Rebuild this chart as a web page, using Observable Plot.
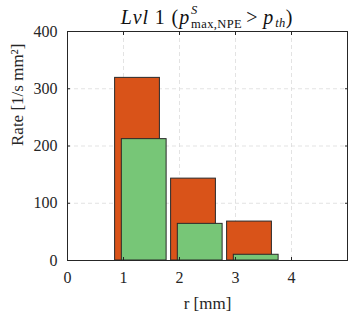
<!DOCTYPE html>
<html>
<head>
<meta charset="utf-8">
<script src="https://cdn.jsdelivr.net/npm/d3@7"></script>
<script src="https://cdn.jsdelivr.net/npm/@observablehq/plot@0.6"></script>
<style>
  html, body { margin: 0; padding: 0; background: #fff; }
  #chart { position: relative; width: 353px; height: 314px; }
  #chart svg text { font-family: "Liberation Serif", serif !important; }
  #title { position: absolute; left: 20px; width: 374px; top: 3px; text-align: center; line-height: 20px;
           font-family: "Liberation Serif", serif; font-size: 20px; letter-spacing: 0.9px; color: #111; white-space: nowrap; }
  .supsub { display: inline-block; vertical-align: -4px; line-height: 13.6px; font-size: 12.5px; letter-spacing: 0.4px; text-align: left; margin-left: 1px; }
  .op { margin: 0 5px 0 4px; }
</style>
</head>
<body>
<div id="chart"><div id="title"></div></div>
<script>
// Data
const binLeftOrange = [0.85, 1.85, 2.85];
const binLeftGreen = [0.97, 1.97, 2.97];
const binWidth = 0.8;
const rateOrange = [319, 143, 68];
const rateGreen = [212, 64, 10];
const xTicks = [0, 1, 2, 3, 4];
const yTicks = [0, 100, 200, 300, 400];

const orange = binLeftOrange.map((x, i) => ({x1: x, x2: x + binWidth, y: rateOrange[i]}));
const green = binLeftGreen.map((x, i) => ({x1: x, x2: x + binWidth, y: rateGreen[i]}));

const ff = "Liberation Serif";
const plot = Plot.plot({
  width: 353,
  height: 314,
  marginLeft: 67,
  marginRight: 6,
  marginTop: 31,
  marginBottom: 54,
  style: {fontFamily: ff, fontSize: "15px", color: "#262626", background: "white"},
  x: {domain: [0, 5]},
  y: {domain: [0, 400]},
  marks: [
    Plot.ruleX([1, 2, 3, 4], {stroke: "#dcdcdc", strokeDasharray: "4,3", strokeWidth: 0.8}),
    Plot.ruleY([100, 200, 300], {stroke: "#dcdcdc", strokeDasharray: "4,3", strokeWidth: 0.8}),
    Plot.rectY(orange, {x1: "x1", x2: "x2", y: "y", fill: "#D95319", stroke: "#2a2a2a", strokeWidth: 1}),
    Plot.rectY(green, {x1: "x1", x2: "x2", y: "y", fill: "#77C677", stroke: "#2a2a2a", strokeWidth: 1}),
    Plot.axisX(xTicks, {anchor: "bottom", tickSize: -3, tickPadding: 14, label: null, stroke: "#262626", fill: "#262626", fontSize: 16}),
    Plot.axisX(xTicks, {anchor: "top", tickSize: -3, tickFormat: () => "", label: null, stroke: "#262626"}),
    Plot.axisY(yTicks, {anchor: "left", tickSize: -3, tickPadding: 13, label: null, stroke: "#262626", fill: "#262626", fontSize: 16}),
    Plot.axisY(yTicks, {anchor: "right", tickSize: -3, tickFormat: () => "", label: null, stroke: "#262626"}),
    Plot.frame({stroke: "#262626", strokeWidth: 1}),
    Plot.text(["r [mm]"], {frameAnchor: "bottom", dy: 48, fontSize: 17, fill: "#262626"}),
    Plot.text(["Rate [1/s mm²]"], {frameAnchor: "left", dx: -50, rotate: -90, fontSize: 17, fill: "#262626"})
  ]
});
document.getElementById("chart").prepend(plot);
plot.style.position = "absolute";
plot.style.left = "0";
plot.style.top = "0";

const t = document.getElementById("title");
t.innerHTML = '<i>Lvl</i> 1 (<i>p</i><span class="supsub"><i>S</i><br>max,NPE</span>' +
  '<span class="op">&gt;</span><i>p</i><span class="supsub" style="vertical-align:-3px;"><br><i>th</i></span>)';
</script>
</body>
</html>
